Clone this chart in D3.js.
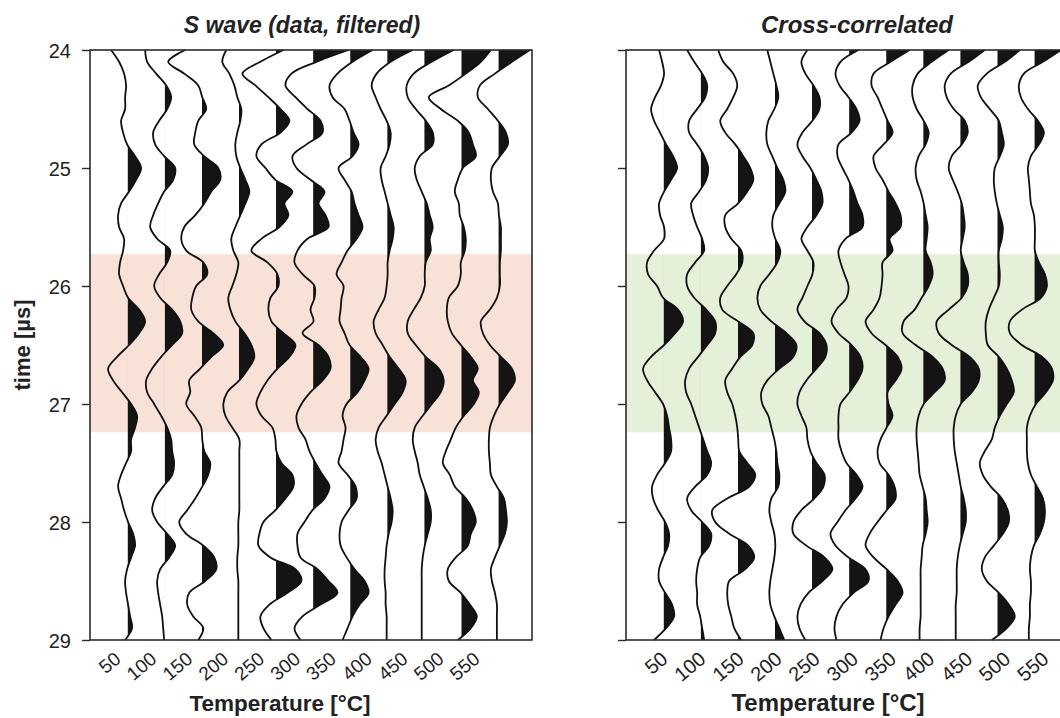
<!DOCTYPE html>
<html>
<head>
<meta charset="utf-8">
<script src="https://cdn.jsdelivr.net/npm/d3@7"></script>
<style>
  body { margin: 0; background: #fff; }
  text { font-family: "Liberation Sans", Arial, sans-serif; fill: #222; }
</style>
</head>
<body>
<div id="chart"></div>
<script>
// =======================
// DATA
// =======================
const temps = [50, 100, 150, 200, 250, 300, 350, 400, 450, 500, 550];
const timeTicks = [24, 25, 26, 27, 28, 29];
const tStart = 24;
const tStep = 0.1;          // one sample every 0.1 us, 24.0 .. 29.0
const windowStart = 25.73;  // shaded time window
const windowEnd = 27.24;

// filtered S-wave traces, one row per temperature
const sWaveTraces = [
  [-16,-8,-3,-1,-2,-2,-6,-4,0,8,14,9,2,-6,-9,-8,-3, -4,-7,-8,-4,1,12,18,12,2,-10,-19,-14,-5,4,10,8,4, 4,-1,-6,-9,-6,-3,1,6,8,4,0,-2,-1,1,3,5,-2],
  [-19,-17,-8,2,7,3,-5,-11,-9,0,11,9,0,-6,-11,-14,-7, 6,3,-5,-10,-4,8,16,18,8,-3,-12,-18,-17,-10,-3,3,7, 8,10,8,-1,-9,-12,-7,3,11,5,-4,-7,-6,-4,-2,-1,0],
  [-16,-33,-17,-3,1,5,-3,-6,-7,3,17,19,10,3,-6,-17,-20, -15,2,6,-5,-9,-10,-3,12,22,10,-1,-12,-11,-15,-7,0,1, 3,9,7,1,-6,-14,-22,-15,2,13,15,4,-12,-14,-8,2,-3],
  [-12,-16,-9,-4,-1,3,2,-1,-3,-2,2,7,11,7,2,-3,-7, -5,0,-2,-6,-10,-8,-3,6,13,16,10,1,-11,-15,-13,-6,1, 1,1,1,1,1,1,0,0,0,-1,-1,0,0,0,0,0,0],
  [8,-15,-33,-20,-7,5,14,5,-14,-19,-10,0,17,9,13,4,-14, -24,-8,2,3,-5,-7,-4,8,20,14,2,-8,-15,-19,-14,-3,0, 1,6,17,18,10,0,-12,-16,-17,-5,20,26,12,-6,-15,-12,-4],
  [36,4,-21,-27,-17,-5,8,10,-6,-20,-16,-2,12,6,13,16,-5, -15,-18,-10,2,2,-2,1,-10,6,16,18,10,-2,-11,-16,-14,-7, -3,3,10,17,12,0,-8,-15,-15,-12,5,16,25,8,-10,-18,-12],
  [23,3,-12,-20,-17,-5,0,4,9,3,-11,-5,2,5,9,13,7, -2,-8,-13,-6,-8,-9,-10,-5,0,11,19,15,8,-3,-7,-4,-6, -8,-11,-2,6,7,-1,-8,-10,-9,-3,5,15,19,10,3,-2,-7],
  [26,4,-10,-15,-11,-6,0,4,3,-1,-6,-5,-2,1,4,7,6, 3,1,1,0,-2,-8,-13,-11,-4,3,12,19,16,8,0,-8,-11, -9,-5,-2,1,4,6,5,2,0,-1,-2,-2,-1,-1,0,0,0],
  [30,8,-10,-17,-16,-8,2,9,9,-4,-9,-7,-2,3,6,9,6, 7,2,1,1,-3,-10,-16,-16,-8,2,15,20,17,8,-1,-9,-11, -9,-6,-4,0,4,7,7,4,1,-1,-2,-2,-2,-2,-2,-2,-2],
  [30,20,5,-12,-32,-20,-3,8,12,15,2,-3,-6,-2,-1,3,5, 4,0,0,-3,-12,-14,-13,-9,0,10,17,12,18,13,3,-5,-10, -15,-18,-11,-6,5,12,15,10,7,-5,-13,-12,0,9,16,10,-3],
  [32,14,-3,-18,-20,-10,0,8,10,2,-6,-7,-5,0,1,3,3, 3,2,2,2,-1,-8,-17,-15,-8,3,14,17,10,2,-4,-8,-9, -9,-8,-7,-1,6,8,9,7,2,-3,-7,-6,-3,-1,-1,-1,-1]
];

// cross-correlated traces
const crossCorrTraces = [
  [-4,-1,1,-2,-8,-12,-9,-3,3,10,14,8,1,-4,-3,1,1, -9,-16,-15,-6,0,15,20,12,1,-12,-20,-16,-8,0,4,6,8, 8,2,-6,-11,-10,-5,2,6,5,0,-4,-4,2,9,11,3,-9],
  [-13,-6,2,7,5,-3,-11,-11,-3,4,8,6,-1,-9,-7,-3,2, 4,-5,-13,-13,-6,6,15,15,7,-2,-11,-15,-14,-9,-5,-1,3, 7,11,7,-5,-13,-9,2,11,9,0,-3,-4,-3,-3,0,2,4],
  [-19,-14,-4,0,-4,-10,-17,-12,-2,6,13,16,10,1,-12,-12,-6, 4,5,-1,-10,-17,-15,1,16,15,3,-5,-12,-10,-5,-2,0,1, 2,10,18,12,-10,-25,-22,-8,11,17,8,-8,-10,-9,-6,-3,4],
  [-7,-4,-1,2,4,0,-6,-8,-7,-2,3,9,11,5,-1,-2,1, 6,3,-5,-14,-17,-14,-3,12,22,19,5,-7,-13,-12,-6,-3,0, 2,3,5,4,-3,-5,-3,0,1,0,-2,-4,-5,-4,0,5,10],
  [-4,-10,-6,2,8,8,1,-9,-14,-9,-1,5,10,11,5,-4,-10, -4,2,1,-4,-9,-14,-7,8,15,14,5,-5,-12,-14,-10,-5,-4, -1,5,13,12,3,-10,-18,-18,-5,13,21,11,-3,-11,-14,-12,-6],
  [10,-8,-13,-9,0,8,11,3,-10,-11,-6,0,5,9,14,14,-3, -10,-8,-4,0,-2,-12,-17,-10,3,12,14,9,1,-8,-10,-10,-10, -7,-2,8,14,7,-3,-11,-18,-13,0,17,20,5,-6,-12,-14,-12],
  [24,5,-12,-14,-8,-3,2,7,-2,-12,-10,-3,3,10,15,15,4, 7,-3,-3,-4,-6,-12,-20,-14,0,12,16,10,2,3,7,1,-5, -8,-6,3,9,10,1,-8,-16,-20,-12,1,12,17,10,3,-2,-5],
  [26,9,-5,-10,-10,-6,1,6,3,-4,-7,-6,-2,1,3,5,4, 3,8,10,6,-1,-8,-19,-20,-7,10,20,22,12,1,-4,-6,-6, -5,-4,-3,0,3,4,5,3,0,-1,-2,-2,-2,-2,-2,-3,-3],
  [25,9,-9,-15,-13,-6,5,8,2,-8,-11,-7,-2,2,4,5,3, 1,4,8,8,2,-11,-23,-21,-8,10,19,19,12,1,-4,-6,-6, -5,-3,-1,1,4,6,6,3,0,-2,-3,-3,-3,-4,-4,-4,-4],
  [23,8,-10,-19,-16,-7,2,5,7,3,-2,-3,-2,0,3,6,5, 2,2,3,2,-3,-8,-11,-11,-9,2,10,15,17,10,3,-2,-5, -12,-17,-14,-6,5,11,12,6,-3,-12,-15,-10,2,12,18,10,-5],
  [27,9,-10,-15,-13,-6,4,10,5,-3,-6,-5,-4,-3,0,1,1, 1,5,11,13,7,-12,-24,-24,-12,8,18,19,12,2,-4,-7,-7, -7,-6,-3,3,9,11,10,6,0,-3,-4,-3,-3,-4,-4,-5,-5]
];

// =======================
// SVG SETUP
// =======================
const width = 1060;
const height = 718;
const plotTop = 50, plotBottom = 640;

const svg = d3.select('#chart')
  .append('svg')
  .attr('width', width)
  .attr('height', height);

const y = d3.scaleLinear().domain([24, 29]).range([plotTop, plotBottom]);
const amp = d3.scaleLinear().domain([0, 10]).range([0, 10]); // wiggle gain

// right panel was pasted in slightly larger, so its text is a bit bigger
const panels = [
  { title: 'S wave (data, filtered)', traces: sWaveTraces, band: '#f8e2d8',
    x0: 90, x1: 532, labelRange: [122, 481], titleX: 302, axisTitleX: 280,
    yLabels: true, titleSize: 23, labelSize: 19, axisTitleSize: 22.5 },
  { title: 'Cross-correlated', traces: crossCorrTraces, band: '#e5f0d9',
    x0: 626, x1: 1068, labelRange: [669, 1050], titleX: 857, axisTitleX: 828,
    yLabels: false, titleSize: 24, labelSize: 20, axisTitleSize: 24 }
];

panels.forEach((p, pi) => {
  const x = d3.scaleLinear().domain([0, 596]).range([p.x0, p.x1]);
  const g = svg.append('g');

  // shaded window
  g.append('rect')
    .attr('x', p.x0)
    .attr('y', y(windowStart))
    .attr('width', p.x1 - p.x0)
    .attr('height', y(windowEnd) - y(windowStart))
    .attr('fill', p.band);

  // traces: black fill on the positive side, line on top
  p.traces.forEach((vals, i) => {
    const base = x(temps[i]);
    const pts = vals.map((v, k) => ({ t: tStart + k * tStep, v }));
    const id = `clip-${pi}-${i}`;

    svg.append('clipPath')
      .attr('id', id)
      .append('rect')
      .attr('x', base + 0.7)
      .attr('y', plotTop)
      .attr('width', 60)
      .attr('height', plotBottom - plotTop);

    const area = d3.area()
      .curve(d3.curveCatmullRom.alpha(0.5))
      .y(d => y(d.t))
      .x0(base)
      .x1(d => base + amp(d.v));

    const line = d3.line()
      .curve(d3.curveCatmullRom.alpha(0.5))
      .y(d => y(d.t))
      .x(d => base + amp(d.v));

    g.append('path')
      .attr('d', area(pts))
      .attr('clip-path', `url(#${id})`)
      .attr('fill', '#141414');

    g.append('path')
      .attr('d', line(pts))
      .attr('fill', 'none')
      .attr('stroke', '#111')
      .attr('stroke-width', 1.8);
  });

  // frame
  g.append('rect')
    .attr('x', p.x0)
    .attr('y', plotTop)
    .attr('width', p.x1 - p.x0)
    .attr('height', plotBottom - plotTop)
    .attr('fill', 'none')
    .attr('stroke', '#2b2b2b')
    .attr('stroke-width', 1.6);

  // y axis
  const yAxis = d3.axisLeft(y)
    .tickValues(timeTicks)
    .tickSize(8)
    .tickPadding(11)
    .tickFormat(p.yLabels ? d3.format('d') : () => '');
  const ya = g.append('g')
    .attr('transform', `translate(${p.x0},0)`)
    .call(yAxis);
  ya.select('.domain').remove();
  ya.selectAll('line').attr('stroke', '#2b2b2b').attr('stroke-width', 1.4);
  ya.selectAll('text')
    .style('font-family', '"Liberation Sans", Arial, sans-serif')
    .style('font-size', '20px')
    .attr('dy', '0.36em')
    .attr('fill', '#222');

  // temperature labels
  const lx = d3.scalePoint().domain(temps).range(p.labelRange);
  g.selectAll('.tlabel')
    .data(temps)
    .enter()
    .append('text')
    .attr('class', 'tlabel')
    .attr('transform', d => `translate(${lx(d)},661) rotate(-40)`)
    .attr('text-anchor', 'end')
    .style('font-size', `${p.labelSize}px`)
    .text(d => d);

  // titles
  g.append('text')
    .attr('x', p.titleX)
    .attr('y', 33)
    .attr('text-anchor', 'middle')
    .style('font-size', `${p.titleSize}px`)
    .style('font-weight', 'bold')
    .style('font-style', 'italic')
    .text(p.title);

  g.append('text')
    .attr('x', p.axisTitleX)
    .attr('y', 711)
    .attr('text-anchor', 'middle')
    .style('font-size', `${p.axisTitleSize}px`)
    .style('font-weight', 'bold')
    .text('Temperature [°C]');
});

svg.append('text')
  .attr('transform', `translate(30,345) rotate(-90)`)
  .attr('text-anchor', 'middle')
  .style('font-size', '22px')
  .style('font-weight', 'bold')
  .text('time [µs]');
</script>
</body>
</html>
